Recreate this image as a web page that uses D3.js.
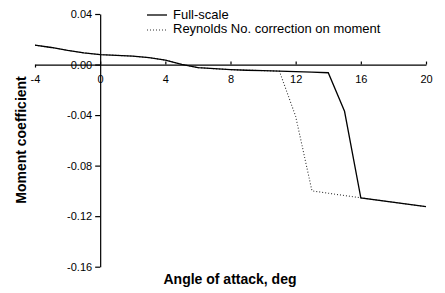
<!DOCTYPE html>
<html><head><meta charset="utf-8">
<script src="https://cdn.jsdelivr.net/npm/d3@7"></script>
<style>body{margin:0;background:#fff}svg{display:block;font-family:"Liberation Sans",Arial,sans-serif}</style>
</head><body><svg id="c" width="445" height="293"></svg>
<script>
const alphaFull = [-4,-3,-2,-1,0,1,2,3,4,5,6,7,8,9,10,11,12,13,14,15,16,20];
const cmFull = [0.0153,0.0135,0.0112,0.0092,0.0079,0.0073,0.0066,0.0055,0.0035,0.0002,-0.0024,-0.0033,-0.0040,-0.0045,-0.0048,-0.0052,-0.0056,-0.0060,-0.0065,-0.0370,-0.1055,-0.1125];
const alphaRe = [-4,-3,-2,-1,0,1,2,3,4,5,6,7,8,9,10,11,12,13,16,20];
const cmRe = [0.0153,0.0135,0.0112,0.0092,0.0079,0.0073,0.0066,0.0055,0.0035,0.0002,-0.0024,-0.0033,-0.0040,-0.0045,-0.0048,-0.0052,-0.0410,-0.1000,-0.1055,-0.1125];
const xTicks = [-4,0,4,8,12,16,20];
const yTicks = [0.04,0.00,-0.04,-0.08,-0.12,-0.16];
const seriesNames = ["Full-scale","Reynolds No. correction on moment"];

const svg = d3.select("#c");
const x = d3.scaleLinear().domain([-4,20]).range([35,426]);
const y = d3.scaleLinear().domain([-0.16,0.04]).range([266.7,14]);
const hy = f => d => f(d).replace("\u2212","-");

// y axis
const ya = svg.append("g").attr("transform",`translate(${x(0)},0)`)
  .call(d3.axisLeft(y).tickValues(yTicks).tickSize(5).tickSizeOuter(0).tickPadding(3).tickFormat(hy(d3.format(".2f"))));
ya.selectAll("text").attr("font-size",11).attr("fill","#000").attr("font-family","Liberation Sans, Arial, sans-serif");
ya.selectAll("line,path").attr("stroke","#000").attr("stroke-width",1.2);

// x axis
const xa = svg.append("g").attr("transform",`translate(0,${y(0)})`)
  .call(d3.axisBottom(x).tickValues(xTicks).tickSize(0).tickSizeOuter(0).tickPadding(11).tickFormat(hy(d3.format("d"))));
xa.selectAll("text").attr("font-size",11).attr("fill","#000").attr("font-family","Liberation Sans, Arial, sans-serif");
xa.select("path").attr("stroke","#000").attr("stroke-width",1.2);
xa.selectAll(".tick").append("line")
  .attr("y1",d=> d===-4 ? 0 : -3).attr("y2",d=> d===-4 ? 3 : 0)
  .attr("stroke","#000").attr("stroke-width",1.2);

// lines
const line = d3.line().x(d=>x(d[0])).y(d=>y(d[1]));
svg.append("path").datum(alphaRe.map((a,i)=>[a,cmRe[i]]))
  .attr("d",line).attr("fill","none").attr("stroke","#333").attr("stroke-width",1.1).attr("stroke-dasharray","1,2");
svg.append("path").datum(alphaFull.map((a,i)=>[a,cmFull[i]]))
  .attr("d",line).attr("fill","none").attr("stroke","#000").attr("stroke-width",1.3);

// legend
const leg = svg.append("g");
leg.append("line").attr("x1",147).attr("x2",167).attr("y1",15).attr("y2",15).attr("stroke","#000").attr("stroke-width",1.3);
leg.append("line").attr("x1",147).attr("x2",167).attr("y1",30).attr("y2",30).attr("stroke","#333").attr("stroke-width",1.1).attr("stroke-dasharray","1,2");
leg.append("text").attr("x",173).attr("y",19).attr("font-size",13).text(seriesNames[0]);
leg.append("text").attr("x",173).attr("y",33).attr("font-size",13).text(seriesNames[1]);

// titles
svg.append("text").attr("x",230).attr("y",284).attr("text-anchor","middle")
  .attr("font-size",14).attr("font-weight","bold").text("Angle of attack, deg");
svg.append("text").attr("transform","translate(26,140) rotate(-90)").attr("text-anchor","middle")
  .attr("font-size",14).attr("font-weight","bold").text("Moment coefficient");
</script></body></html>
